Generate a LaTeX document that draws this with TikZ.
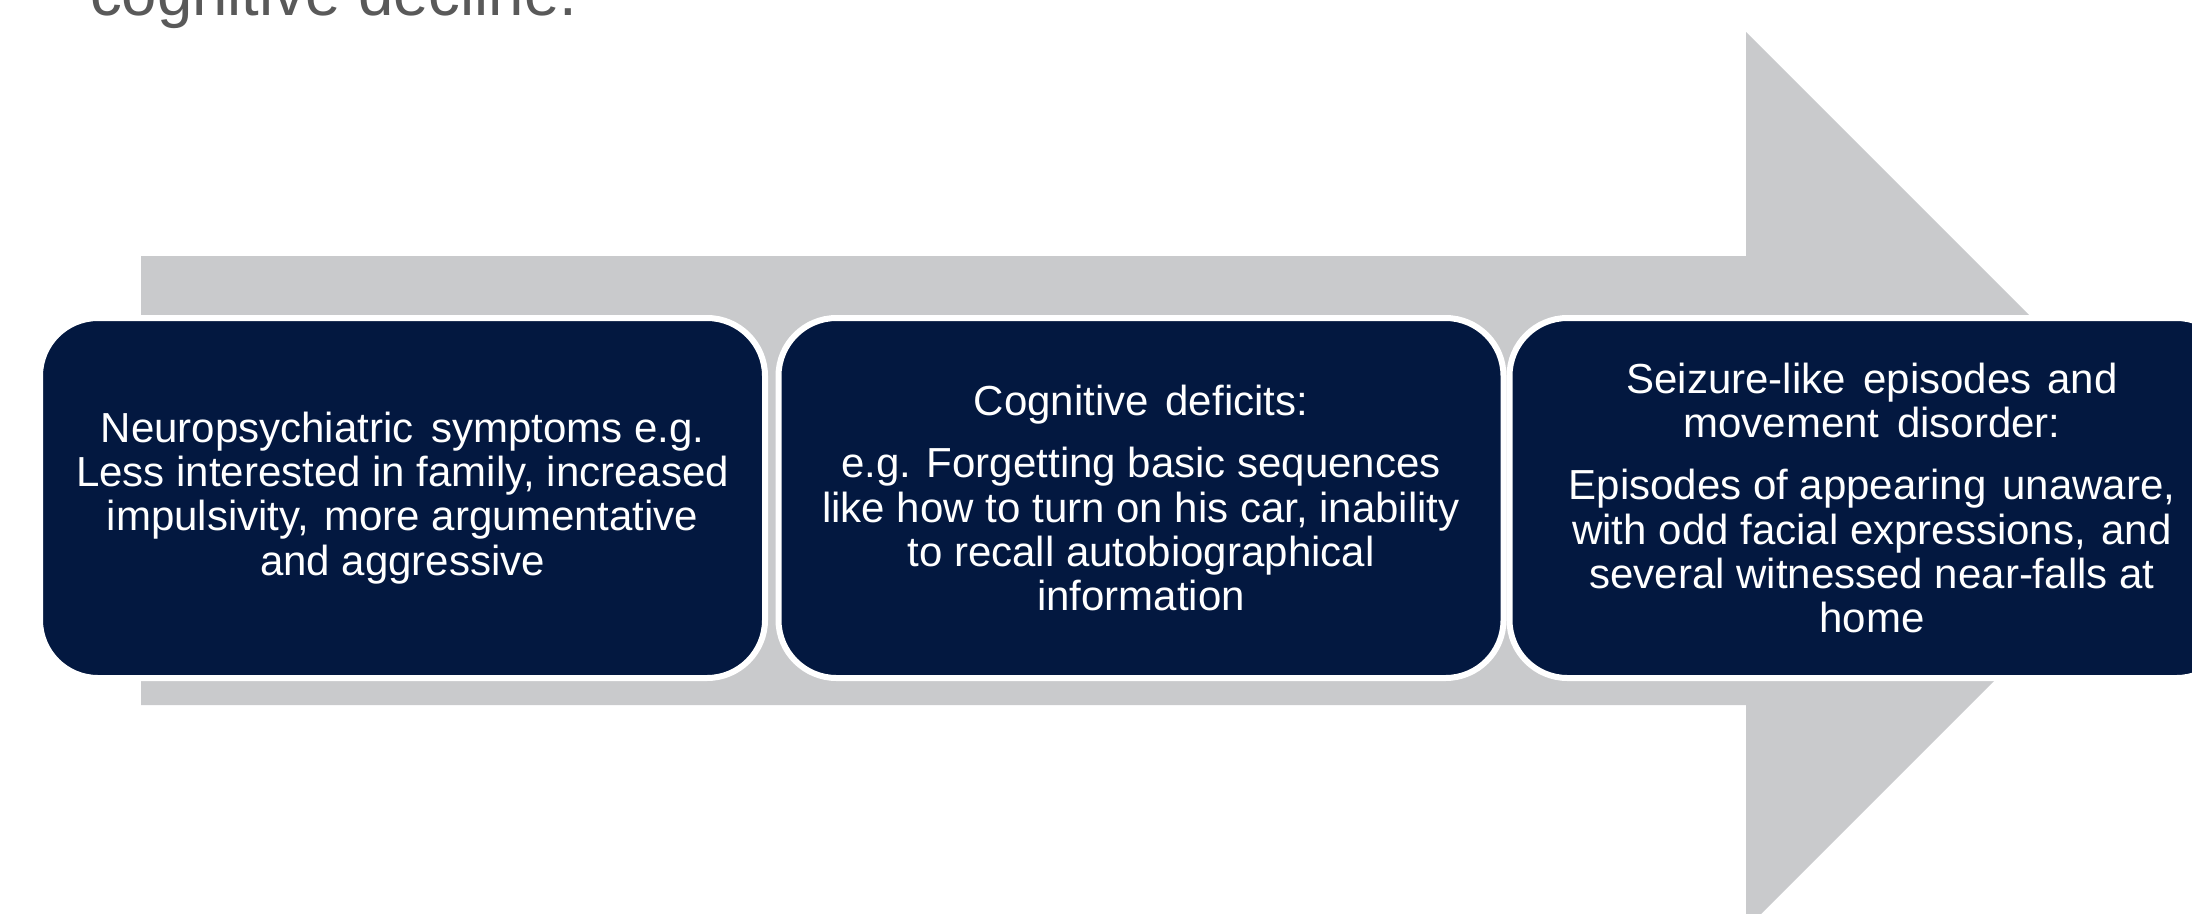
\documentclass[tikz,border=0pt]{standalone}
\usepackage{fontspec}
\setmainfont{Liberation Sans}

\definecolor{arrowgrey}{RGB}{201,202,204}
\definecolor{navy}{RGB}{3,24,64}
\definecolor{titlegrey}{RGB}{89,89,89}

\tikzset{
  stagebox/.style={fill=navy, draw=white, line width=6pt,
    rounded corners=58pt, minimum width=725pt, minimum height=360pt,
    inner sep=0pt, text=white, align=center,
    font=\fontsize{42}{44.2}\selectfont},
  titletext/.style={anchor=base west, inner sep=0pt, text=titlegrey,
    font=\fontsize{63.5}{70}\selectfont}
}

\begin{document}
\begin{tikzpicture}[x=1pt,y=-1pt]
\useasboundingbox (0,0) rectangle (2192,913);
\clip (0,0) rectangle (2192,913);

% heading line running off the top edge
\node[titletext] (title) at (90,15) {cognitive decline.};

% broad grey progression arrow behind the stages
\fill[arrowgrey] (141,256) -- (1746,256) -- (1746,32) -- (2194.5,480.5)
  -- (1746,929) -- (1746,705) -- (141,705) -- cycle;

% the three stages
\node[stagebox] (s1) at (402.5,498)
  {Neuropsychiatric\hspace{6pt} symptoms e.g.\\
   Less interested in family, increased\\
   impulsivity,\hspace{4pt} more argumentative\\
   and aggressive};

\node[stagebox] (s2) at (1141,498)
  {Cognitive\hspace{5pt} deficits:\\[18pt]
   e.g. Forgetting basic sequences\\
   like how to turn on his car, inability\\
   to recall autobiographical\\
   information};

\node[stagebox] (s3) at (1872,498)
  {Seizure-like\hspace{6pt} episodes\hspace{4pt} and\\
   movement\hspace{6pt} disorder:\\[18pt]
   Episodes of appearing\hspace{4pt} unaware,\\
   with odd facial expressions,\hspace{4pt} and\\
   several witnessed near-falls at\\
   home};
\end{tikzpicture}
\end{document}
